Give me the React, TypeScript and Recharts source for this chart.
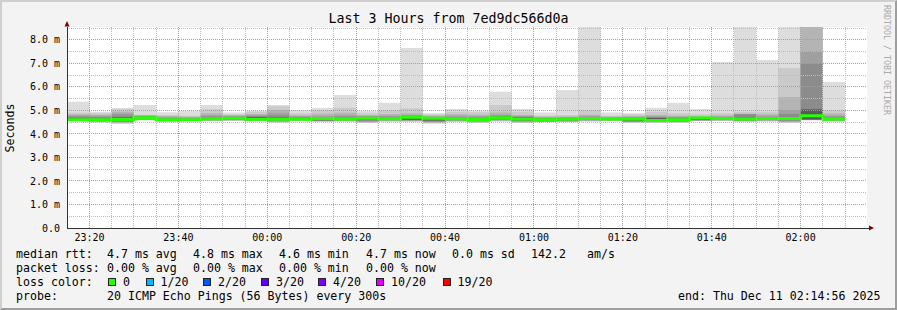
import {
  ComposedChart,
  Area,
  Line,
  XAxis,
  YAxis,
  CartesianGrid,
  ReferenceLine,
} from 'recharts';

// start of each 5 minute step
const slots = [
  '23:15', '23:20', '23:25', '23:30', '23:35', '23:40', '23:45', '23:50', '23:55',
  '00:00', '00:05', '00:10', '00:15', '00:20', '00:25', '00:30', '00:35', '00:40',
  '00:45', '00:50', '00:55', '01:00', '01:05', '01:10', '01:15', '01:20', '01:25',
  '01:30', '01:35', '01:40', '01:45', '01:50', '01:55', '02:00', '02:05',
];

const rangeStart = '23:14:56';
const rangeEnd = '02:14:56';

// smoke bands, outer (lightest) to inner (darkest), in ms
const band1Hi = [5.37, 4.95, 5.1, 5.23, 4.92, 4.99, 5.23, 4.91, 4.98, 5.23, 5.02, 5.1, 5.66, 4.98, 5.33, 7.66, 4.88, 5.06, 4.99, 5.8, 5.06, 4.91, 5.87, 9.0, 4.91, 4.88, 5.12, 5.33, 5.06, 7.06, 9.0, 7.15, 9.0, 9.0, 6.21];
const band2Hi = [4.9, 4.88, 5.05, 4.82, 4.81, 4.77, 5.05, 4.84, 4.95, 5.18, 4.88, 5.02, 5.12, 4.88, 5.02, 5.09, 4.84, 4.95, 4.92, 5.23, 4.95, 4.78, 4.81, 5.02, 4.78, 4.84, 4.95, 4.88, 4.84, 4.88, 4.95, 4.95, 6.81, 9.0, 5.02];
const band3Hi = [4.84, 4.82, 4.94, 4.8, 4.76, 4.74, 4.88, 4.8, 4.85, 5.02, 4.8, 4.86, 4.9, 4.8, 4.85, 4.88, 4.78, 4.84, 4.82, 4.91, 4.81, 4.74, 4.74, 4.82, 4.74, 4.76, 4.81, 4.78, 4.76, 4.79, 4.86, 4.84, 5.57, 9.0, 4.87];
const band4Hi = [4.79, 4.77, 4.88, 4.78, 4.71, 4.7, 4.8, 4.76, 4.8, 4.9, 4.75, 4.78, 4.8, 4.76, 4.78, 4.81, 4.74, 4.77, 4.75, 4.82, 4.76, 4.7, 4.71, 4.76, 4.71, 4.72, 4.75, 4.73, 4.72, 4.74, 4.85, 4.77, 5.02, 7.53, 4.78];
const band5Hi = [4.74, 4.72, 4.8, 4.76, 4.67, 4.67, 4.74, 4.73, 4.76, 4.8, 4.71, 4.72, 4.74, 4.73, 4.73, 4.77, 4.71, 4.72, 4.7, 4.77, 4.73, 4.67, 4.69, 4.72, 4.68, 4.69, 4.71, 4.69, 4.7, 4.71, 4.84, 4.72, 4.85, 7.0, 4.73];
const band6Hi = [4.66, 4.65, 4.7, 4.72, 4.63, 4.63, 4.68, 4.7, 4.72, 4.7, 4.67, 4.68, 4.68, 4.7, 4.68, 4.74, 4.69, 4.68, 4.66, 4.73, 4.71, 4.64, 4.67, 4.69, 4.66, 4.66, 4.68, 4.65, 4.69, 4.68, 4.7, 4.69, 4.72, 5.05, 4.68];
const medianRtt = [4.61, 4.61, 4.62, 4.69, 4.6, 4.6, 4.65, 4.67, 4.63, 4.63, 4.63, 4.66, 4.64, 4.67, 4.65, 4.71, 4.67, 4.65, 4.62, 4.69, 4.64, 4.61, 4.64, 4.66, 4.64, 4.64, 4.57, 4.61, 4.68, 4.66, 4.64, 4.66, 4.66, 4.77, 4.64];
const band6Lo = [4.6, 4.58, 4.57, 4.66, 4.58, 4.59, 4.62, 4.64, 4.61, 4.59, 4.61, 4.58, 4.61, 4.6, 4.62, 4.61, 4.57, 4.61, 4.58, 4.64, 4.58, 4.57, 4.6, 4.62, 4.61, 4.57, 4.55, 4.57, 4.59, 4.62, 4.6, 4.62, 4.6, 4.62, 4.61];
const band5Lo = [4.59, 4.55, 4.52, 4.63, 4.56, 4.58, 4.6, 4.61, 4.59, 4.55, 4.59, 4.56, 4.58, 4.55, 4.59, 4.58, 4.53, 4.58, 4.55, 4.6, 4.55, 4.54, 4.56, 4.59, 4.59, 4.53, 4.53, 4.54, 4.58, 4.6, 4.57, 4.59, 4.56, 4.61, 4.58];
const band4Lo = [4.58, 4.53, 4.49, 4.61, 4.55, 4.57, 4.58, 4.59, 4.57, 4.53, 4.58, 4.55, 4.56, 4.52, 4.57, 4.56, 4.5, 4.56, 4.52, 4.58, 4.52, 4.53, 4.54, 4.57, 4.57, 4.51, 4.51, 4.52, 4.57, 4.58, 4.55, 4.57, 4.53, 4.6, 4.56];
const band3Lo = [4.57, 4.52, 4.47, 4.6, 4.54, 4.56, 4.56, 4.57, 4.55, 4.51, 4.57, 4.54, 4.55, 4.5, 4.55, 4.55, 4.48, 4.54, 4.5, 4.56, 4.5, 4.52, 4.52, 4.55, 4.56, 4.5, 4.5, 4.5, 4.56, 4.57, 4.54, 4.55, 4.51, 4.59, 4.55];
const band2Lo = [4.56, 4.5, 4.45, 4.58, 4.53, 4.56, 4.55, 4.56, 4.54, 4.5, 4.56, 4.53, 4.53, 4.49, 4.53, 4.53, 4.46, 4.53, 4.49, 4.54, 4.49, 4.51, 4.51, 4.54, 4.55, 4.49, 4.49, 4.49, 4.55, 4.56, 4.53, 4.54, 4.49, 4.58, 4.53];
const band1Lo = [4.54, 4.48, 4.43, 4.57, 4.52, 4.55, 4.53, 4.55, 4.53, 4.48, 4.55, 4.52, 4.52, 4.48, 4.52, 4.52, 4.45, 4.52, 4.48, 4.53, 4.48, 4.5, 4.5, 4.53, 4.54, 4.48, 4.48, 4.48, 4.55, 4.55, 4.52, 4.53, 4.48, 4.58, 4.52];

const bandColors = ['#dddddd', '#cacaca', '#b4b4b4', '#a0a0a0', '#8c8c8c', '#5a5a5a'];

const yTicks = [0, 1, 2, 3, 4, 5, 6, 7, 8];
const xTickLabels = ['23:20', '23:40', '00:00', '00:20', '00:40', '01:00', '01:20', '01:40', '02:00'];

const lossColors = ['#26ff00', '#00b8ff', '#0059ff', '#5e00ff', '#7e00ff', '#dd00ff', '#ff0000'];
const lossLabels = ['0', '1/20', '2/20', '3/20', '4/20', '10/20', '19/20'];

const rttStats = ['4.7 ms avg', '4.8 ms max', '4.6 ms min', '4.7 ms now', '0.0 ms sd', '142.2', 'am/s'];
const lossStats = ['0.00 % avg', '0.00 % max', '0.00 % min', '0.00 % now'];

// minutes after 23:00
function toMinutes(s: string) {
  const [h, m, sec] = s.split(':').map(Number);
  return ((h - 23 + 24) % 24) * 60 + m + (sec || 0) / 60;
}

function fmtTime(v: number) {
  const h = (23 + Math.floor(v / 60)) % 24;
  const m = Math.round(v % 60);
  return String(h).padStart(2, '0') + ':' + String(m).padStart(2, '0');
}

const bands = [
  [band1Lo, band1Hi],
  [band2Lo, band2Hi],
  [band3Lo, band3Hi],
  [band4Lo, band4Hi],
  [band5Lo, band5Hi],
  [band6Lo, band6Hi],
];

const rows: any[] = slots.map((s, i) => {
  const row: any = { t: toMinutes(s), median: medianRtt[i] };
  bands.forEach(([lo, hi], b) => {
    row['b' + b] = [lo[i], hi[i]];
  });
  return row;
});
// close the last step
rows.push({ ...rows[rows.length - 1], t: rows[rows.length - 1].t + 5 });

const x0 = toMinutes(rangeStart);
const x1 = toMinutes(rangeEnd);
const xTicks = xTickLabels.map(toMinutes);

const minorX: number[] = [];
for (let m = 20; m < x1; m += 5) if (m % 20 !== 0) minorX.push(m);
const minorY = [0.5, 1.5, 2.5, 3.5, 4.5, 5.5, 6.5, 7.5, 8.5];

const mono = '"DejaVu Sans Mono", monospace';
const legendFont = 11.6;

const txt = (x: number, y: number, s: string, key?: string) => (
  <div
    key={key}
    style={{
      position: 'absolute',
      left: x,
      top: y,
      fontFamily: mono,
      fontSize: legendFont,
      lineHeight: '14px',
      whiteSpace: 'pre',
      color: '#000',
    }}
  >
    {s}
  </div>
);

const statX = [107, 193, 279, 366, 452, 531, 587];
const swatchX = [108, 145.5, 203, 261, 318, 376, 442.5];

const gridMinor = '#bdbdbd';
const gridMajor = '#ee8080';

export default function App() {
  return (
    <div
      style={{
        position: 'absolute',
        left: 0,
        top: 0,
        width: 897,
        height: 310,
        boxSizing: 'border-box',
        background: '#f3f3f3',
        borderTop: '2px solid #cfcfcf',
        borderLeft: '2px solid #cfcfcf',
        borderBottom: '2px solid #9e9e9e',
        borderRight: '2px solid #9e9e9e',
        overflow: 'hidden',
      }}
    >
      <div style={{ position: 'absolute', left: -2, top: -2 }}>
        <ComposedChart
          width={897}
          height={310}
          data={rows}
          margin={{ top: 27, right: 30, bottom: 62, left: 7 }}
        >
          <CartesianGrid horizontal={false} vertical={false} fill="#ffffff" stroke="none" />
          <XAxis
            type="number"
            dataKey="t"
            domain={[x0, x1]}
            ticks={xTicks}
            tickFormatter={fmtTime}
            allowDataOverflow
            height={20}
            tickLine={false}
            tickSize={0}
            tickMargin={6}
            axisLine={{ stroke: '#333', shapeRendering: 'crispEdges' }}
            tick={{ fontFamily: mono, fontSize: 10, fill: '#000' }}
          />
          <YAxis
            type="number"
            domain={[0, 8.55]}
            ticks={yTicks}
            allowDataOverflow
            width={60}
            tickLine={false}
            tickSize={0}
            tickMargin={7}
            axisLine={{ stroke: '#333', shapeRendering: 'crispEdges' }}
            tickFormatter={(v: number) => (v === 0 ? '0.0' : v.toFixed(1) + ' m')}
            tick={{ fontFamily: mono, fontSize: 10, fill: '#000' }}
          />
          {bandColors.map((c, b) => (
            <Area
              key={b}
              type="stepAfter"
              dataKey={'b' + b}
              stroke="none"
              fill={c}
              fillOpacity={1}
              isAnimationActive={false}
              activeDot={false}
            />
          ))}
          <Line
            type="stepAfter"
            dataKey="median"
            stroke={lossColors[0]}
            strokeWidth={3}
            dot={false}
            activeDot={false}
            isAnimationActive={false}
          />
          {minorX.map((v) => (
            <ReferenceLine key={'mx' + v} x={v} stroke={gridMinor} strokeDasharray="1 1" shapeRendering="crispEdges" />
          ))}
          {minorY.map((v) => (
            <ReferenceLine key={'my' + v} y={v} stroke={gridMinor} strokeDasharray="1 1" shapeRendering="crispEdges" />
          ))}
          {xTicks.map((v) => (
            <ReferenceLine key={'Mx' + v} x={v} stroke={gridMajor} strokeDasharray="1 1" shapeRendering="crispEdges" />
          ))}
          {yTicks.slice(1).map((v) => (
            <ReferenceLine key={'My' + v} y={v} stroke={gridMajor} strokeDasharray="1 1" shapeRendering="crispEdges" />
          ))}
        </ComposedChart>

        <svg
          width={897}
          height={310}
          style={{ position: 'absolute', left: 0, top: 0, pointerEvents: 'none' }}
        >
          <line x1={867} y1={228} x2={870} y2={228} stroke="#333" shapeRendering="crispEdges" />
          <polygon points="869,225.5 869,230.5 874,228" fill="#7f0000" />
          <polygon points="64.5,26.5 69.5,26.5 67,21" fill="#7f0000" />
        </svg>

        <div
          style={{
            position: 'absolute',
            left: 0,
            top: 10,
            width: 897,
            textAlign: 'center',
            fontFamily: mono,
            fontSize: 13.3,
            lineHeight: '18px',
            color: '#000',
          }}
        >
          Last 3 Hours from 7ed9dc566d0a
        </div>

        <div
          style={{
            position: 'absolute',
            left: 10,
            top: 127.5,
            transform: 'translate(-50%, -50%) rotate(-90deg)',
            fontFamily: mono,
            fontSize: legendFont,
            lineHeight: '14px',
            color: '#000',
            whiteSpace: 'nowrap',
          }}
        >
          Seconds
        </div>

        <div
          style={{
            position: 'absolute',
            left: 882,
            top: 5,
            writingMode: 'vertical-rl',
            fontFamily: mono,
            fontSize: 8.3,
            lineHeight: '10px',
            color: '#aaaaaa',
            whiteSpace: 'nowrap',
          }}
        >
          RRDTOOL / TOBI OETIKER
        </div>

        {txt(16, 246.7, 'median rtt:')}
        {rttStats.map((s, i) => txt(statX[i], 246.7, s, 'r' + i))}
        {txt(16, 260.9, 'packet loss:')}
        {lossStats.map((s, i) => txt(statX[i], 260.9, s, 'l' + i))}
        {txt(16, 275, 'loss color:')}
        {lossColors.map((c, i) => (
          <div
            key={'sw' + i}
            style={{
              position: 'absolute',
              left: swatchX[i],
              top: 278,
              width: 8,
              height: 8,
              boxSizing: 'border-box',
              border: '1px solid #222',
              background: c,
            }}
          />
        ))}
        {lossLabels.map((s, i) => txt(swatchX[i] + 15, 275, s, 'll' + i))}
        {txt(16, 289.2, 'probe:')}
        {txt(107, 289.2, '20 ICMP Echo Pings (56 Bytes) every 300s')}
        {txt(678, 289.2, 'end: Thu Dec 11 02:14:56 2025')}
      </div>
    </div>
  );
}
